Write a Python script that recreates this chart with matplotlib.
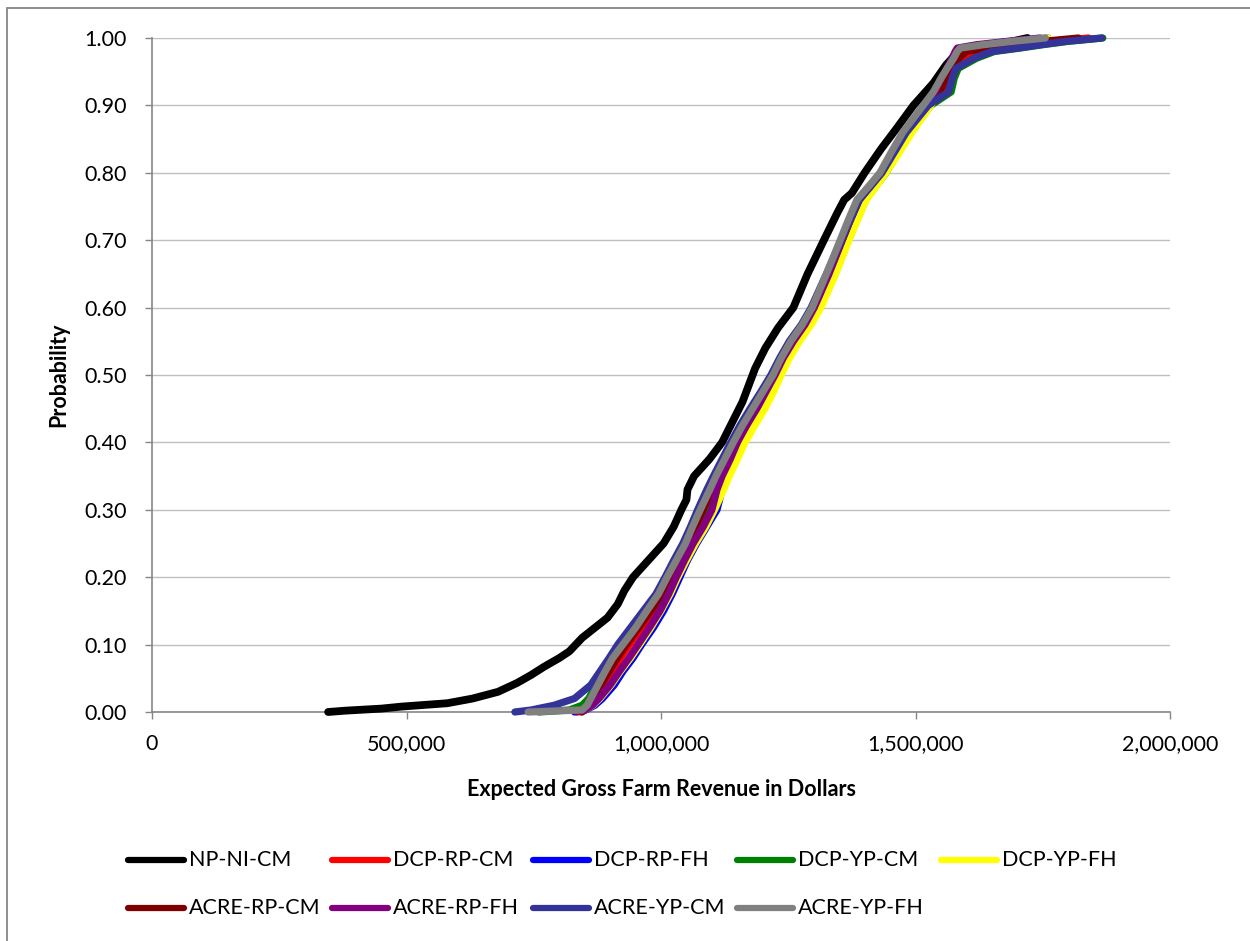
import matplotlib
matplotlib.use("Agg")
import matplotlib.pyplot as plt
from matplotlib.lines import Line2D
from matplotlib.patches import Rectangle
from matplotlib.ticker import FuncFormatter

plt.rcParams['font.family'] = ['Lato', 'DejaVu Sans']

# ---------------- data (revenue in thousands of dollars) ----------------
series_names = ["NP-NI-CM", "DCP-RP-CM", "DCP-RP-FH", "DCP-YP-CM", "DCP-YP-FH",
                "ACRE-RP-CM", "ACRE-RP-FH", "ACRE-YP-CM", "ACRE-YP-FH"]
series_colors = ["#000000", "#FF0000", "#0000FF", "#008000", "#FFFF00",
                 "#800000", "#800080", "#333399", "#808080"]

prob_np = [0.000, 0.002, 0.005, 0.008, 0.013, 0.020, 0.030, 0.043, 0.055, 0.067,
           0.080, 0.090, 0.110, 0.125, 0.140, 0.160, 0.180, 0.200, 0.225, 0.250,
           0.275, 0.300, 0.315, 0.330, 0.350, 0.375, 0.400, 0.430, 0.460, 0.490,
           0.510, 0.540, 0.570, 0.600, 0.650, 0.700, 0.740, 0.760, 0.770, 0.800,
           0.835, 0.865, 0.900, 0.933, 0.960, 0.975, 0.985, 0.990, 0.995, 1.000]
np_ni_cm = [346, 380, 450, 490, 580, 630, 680, 717, 745, 770,
            800, 820, 845, 870, 895, 915, 928, 945, 975, 1005,
            1025, 1040, 1050, 1052, 1065, 1095, 1120, 1140, 1160, 1175,
            1185, 1205, 1230, 1260, 1288, 1320, 1346, 1360, 1375, 1400,
            1432, 1462, 1496, 1535, 1560, 1578, 1595, 1640, 1690, 1720]

prob_grp = [0.000, 0.003, 0.010, 0.020, 0.040, 0.060, 0.080, 0.100, 0.125, 0.150,
            0.175, 0.200, 0.225, 0.250, 0.275, 0.300, 0.330, 0.350, 0.375, 0.400,
            0.425, 0.450, 0.475, 0.500, 0.525, 0.550, 0.575, 0.600, 0.650, 0.700,
            0.730, 0.760, 0.780, 0.800, 0.830, 0.860, 0.900, 0.920, 0.940, 0.955,
            0.970, 0.980, 0.985, 0.990, 0.995, 1.000]
dcp_rp_cm = [842, 850, 860, 870, 888, 904, 920, 938, 962, 985,
             1006, 1024, 1040, 1057, 1073, 1088, 1105, 1116, 1132, 1148,
             1166, 1186, 1206, 1225, 1241, 1260, 1283, 1302, 1331, 1358,
             1375, 1392, 1414, 1436, 1460, 1484, 1523, 1552, 1564, 1575,
             1590, 1620, 1660, 1710, 1770, 1840]
dcp_rp_fh = [830, 852, 870, 885, 908, 925, 945, 962, 985, 1005,
             1022, 1037, 1052, 1070, 1090, 1110, 1120, 1130, 1145, 1160,
             1178, 1198, 1216, 1232, 1249, 1269, 1291, 1309, 1337, 1362,
             1379, 1397, 1418, 1438, 1463, 1488, 1525, 1545, 1556, 1568,
             1578, 1586, 1595, 1640, 1700, 1760]
dcp_yp_cm = [760, 820, 845, 858, 872, 888, 904, 922, 948, 972,
             995, 1014, 1034, 1053, 1070, 1087, 1108, 1120, 1138, 1156,
             1175, 1196, 1217, 1234, 1250, 1268, 1292, 1312, 1342, 1368,
             1385, 1402, 1422, 1442, 1466, 1490, 1530, 1570, 1576, 1584,
             1620, 1655, 1705, 1750, 1800, 1868]
dcp_yp_fh = [838, 850, 866, 880, 902, 920, 940, 958, 980, 1000,
             1018, 1033, 1050, 1068, 1088, 1105, 1123, 1134, 1150, 1165,
             1184, 1204, 1221, 1236, 1252, 1272, 1295, 1314, 1343, 1369,
             1386, 1403, 1423, 1442, 1468, 1493, 1530, 1548, 1558, 1570,
             1580, 1590, 1600, 1640, 1700, 1760]
acre_rp_cm = [845, 850, 858, 866, 882, 898, 914, 932, 956, 980,
              1002, 1019, 1036, 1053, 1068, 1083, 1100, 1112, 1128, 1145,
              1163, 1183, 1203, 1222, 1239, 1258, 1281, 1300, 1329, 1356,
              1372, 1389, 1411, 1433, 1456, 1480, 1520, 1548, 1560, 1572,
              1585, 1600, 1640, 1690, 1750, 1820]
acre_rp_fh = [835, 850, 865, 878, 900, 918, 937, 955, 977, 998,
              1015, 1030, 1046, 1063, 1083, 1100, 1110, 1120, 1136, 1150,
              1168, 1188, 1206, 1224, 1240, 1260, 1283, 1301, 1330, 1356,
              1372, 1389, 1411, 1432, 1456, 1480, 1518, 1538, 1550, 1562,
              1572, 1578, 1582, 1620, 1680, 1745]
acre_yp_cm = [713, 745, 790, 830, 862, 880, 898, 915, 940, 965,
              990, 1008, 1025, 1043, 1058, 1072, 1090, 1103, 1120, 1137,
              1155, 1175, 1196, 1216, 1233, 1252, 1276, 1295, 1325, 1354,
              1372, 1390, 1412, 1434, 1458, 1482, 1525, 1565, 1572, 1580,
              1615, 1650, 1700, 1745, 1795, 1866]
acre_yp_fh = [739, 845, 855, 862, 876, 890, 905, 925, 950, 972,
              995, 1012, 1030, 1048, 1062, 1077, 1096, 1108, 1125, 1142,
              1160, 1180, 1200, 1220, 1236, 1255, 1278, 1297, 1325, 1352,
              1368, 1385, 1408, 1430, 1452, 1475, 1515, 1535, 1550, 1562,
              1575, 1582, 1588, 1633, 1690, 1755]

x_ticks = [0, 500000, 1000000, 1500000, 2000000]
y_ticks = [0.0, 0.1, 0.2, 0.3, 0.4, 0.5, 0.6, 0.7, 0.8, 0.9, 1.0]

series_values = [np_ni_cm, dcp_rp_cm, dcp_rp_fh, dcp_yp_cm, dcp_yp_fh,
                 acre_rp_cm, acre_rp_fh, acre_yp_cm, acre_yp_fh]
series_probs = [prob_np] + [prob_grp] * 8

# ---------------- figure ----------------
W, H = 1250, 941
fig = plt.figure(figsize=(W / 100, H / 100), dpi=100)
fig.patch.set_facecolor("white")

def fx(px):
    return px / W

def fy(py):
    return 1 - py / H

# chart area border
fig.patches.append(Rectangle((fx(7), fy(1000)), fx(1300), fy(8) - fy(1000),
                             transform=fig.transFigure, fill=False,
                             edgecolor="#868686", lw=1.3, zorder=0))

ax = fig.add_axes([fx(152), fy(712), fx(1170) - fx(152), fy(38) - fy(712)])
ax.set_xlim(0, 2000000)
ax.set_ylim(0, 1.0)

for i, (vals, probs, col) in enumerate(zip(series_values, series_probs, series_colors)):
    ax.plot([v * 1000 for v in vals], probs, color=col,
            lw=5.6 if i == 0 else 5.2,
            solid_capstyle="round", solid_joinstyle="round", zorder=3,
            clip_on=False)

ax.set_xticks(x_ticks)
ax.set_yticks(y_ticks)
ax.xaxis.set_major_formatter(FuncFormatter(lambda v, p: f"{int(v):,}"))
ax.yaxis.set_major_formatter(FuncFormatter(lambda v, p: f"{v:.2f}"))
ax.grid(axis="y", color="#C0C0C0", lw=1.0, zorder=1)
ax.set_axisbelow(True)
for s in ["top", "right"]:
    ax.spines[s].set_visible(False)
for s in ["left", "bottom"]:
    ax.spines[s].set_color("#868686")
    ax.spines[s].set_linewidth(1.2)
ax.tick_params(axis="both", direction="out", length=5, width=1.0,
               color="#868686", labelsize=15.5, labelcolor="black")
ax.tick_params(axis="y", pad=13)
ax.tick_params(axis="x", pad=11)

fig.text(fx(661), fy(790), "Expected Gross Farm Revenue in Dollars",
         ha="center", va="center", fontsize=15.5, fontweight="bold")
fig.text(fx(59), fy(375), "Probability", ha="center", va="center",
         rotation=90, fontsize=15.5, fontweight="bold")

# legend (manually laid out like Excel)
line_starts = [[128, 332, 533, 737, 941], [128, 332, 533, 737]]
row_y = [860, 908]
k = 0
for r, starts in enumerate(line_starts):
    for x0 in starts:
        y = fy(row_y[r])
        fig.add_artist(Line2D([fx(x0), fx(x0 + 56)], [y, y],
                              transform=fig.transFigure,
                              color=series_colors[k], lw=4.5,
                              solid_capstyle="round"))
        fig.text(fx(x0 + 61), y, series_names[k], ha="left", va="center",
                 fontsize=15.5)
        k += 1

fig.savefig("out.png", dpi=100, facecolor="white")
